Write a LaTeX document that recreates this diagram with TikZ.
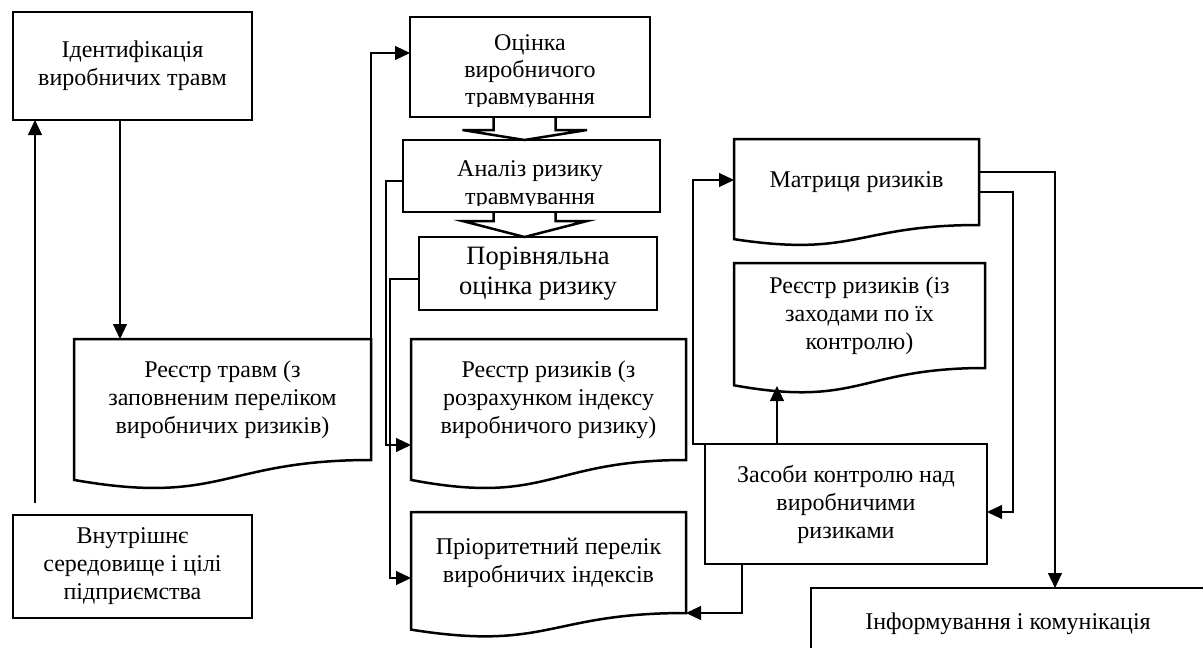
\documentclass[tikz,border=0pt]{standalone}
\usepackage{fontspec}
\setmainfont{Liberation Serif}
\usetikzlibrary{arrows.meta,calc}
\newcommand\mainfs{\fontsize{24}{28}\selectfont}
\tikzset{
  boxline/.style={line width=2.5pt, line join=miter},
  box/.style={draw, boxline, fill=white, inner sep=0pt, outer sep=0pt, align=center, font=\mainfs},
  doc/.style={inner sep=0pt, outer sep=0pt, align=center, font=\mainfs},
  conn/.style={line width=1.1pt, -{Triangle[length=15pt,width=14pt]}},
  blk/.style={boxline},
}
\newcommand\docoutline[1]{%
  \draw[boxline]
    (#1.north west) -- (#1.north east) -- (#1.south east)
    .. controls (#1.south) and ($(#1.south)!-0.381!(#1.north)$) ..
    ($(#1.south west)!-0.1646!(#1.north west)$) -- cycle;}
\begin{document}
\begin{tikzpicture}[x=1pt,y=-1pt]
\clip (0,0) rectangle (1203,648);
\fill[white] (0,0) rectangle (1203,648);
% rectangles
\node[box, minimum width=239pt, minimum height=108pt] (id) at (132.5,66) {Ідентифікація\\виробничих травм};
\node[box, minimum width=240pt, minimum height=100pt] (oc) at (530,67) {};
\node[box, minimum width=257pt, minimum height=72pt] (an) at (531.5,176) {};
\node[box, minimum width=238pt, minimum height=73pt, font=\fontsize{26.5}{30}\selectfont] (por) at (538,273.5) {Порівняльна\\оцінка ризику};
\node[box, minimum width=239pt, minimum height=103pt] (vn) at (132.5,566.5) {Внутрішнє\\середовище і цілі\\підприємства};
\node[box, minimum width=282pt, minimum height=120pt] (zk) at (846,504) {Засоби контролю над\\виробничими\\ризиками};
\node[box, minimum width=394pt, minimum height=72pt] (inf) at (1008,624) {Інформування і комунікація};
% clipped texts
\begin{scope}
  \clip (oc.north west) rectangle ([yshift=11pt]oc.south east);
  \node[doc, font=\fontsize{24}{27}\selectfont] (oct) at (530,72.5) {Оцінка\\виробничого\\травмування};
\end{scope}
\begin{scope}
  \clip (an.north west) rectangle ([yshift=7pt]an.south east);
  \node[doc, font=\fontsize{24}{28}\selectfont] (ant) at (530,185.5) {Аналіз ризику\\травмування};
\end{scope}
% document shapes
\node[doc, minimum width=297pt, minimum height=121pt] (rt) at (222.5,399.5) {Реєстр травм (з\\заповненим переліком\\виробничих ризиків)};
\docoutline{rt}
\node[doc, minimum width=275pt, minimum height=121pt] (rr1) at (548.5,399.5) {Реєстр ризиків (з\\розрахунком індексу\\виробничого ризику)};
\docoutline{rr1}
\node[doc, minimum width=275pt, minimum height=101pt] (pri) at (548.5,562.5) {Пріоритетний перелік\\виробничих індексів};
\docoutline{pri}
\node[doc, minimum width=245pt, minimum height=86pt] (mat) at (856.5,182) {Матриця ризиків};
\docoutline{mat}
\node[doc, minimum width=251pt, minimum height=105pt] (rr2) at (859.5,315.5) {Реєстр ризиків (із\\заходами по їх\\контролю)};
\docoutline{rr2}
% block arrows
\coordinate (c1) at ([xshift=-5.5pt]oc.south);
\draw[blk] ([xshift=-31pt]c1) -- ++(0,13) -- ++(-31,0) -- (c1 |- an.north) -- ([xshift=62.5pt,yshift=-13pt]c1) -- ++(-31.5,0) -- ++(0,-13);
\coordinate (c2) at ([xshift=-7pt]an.south);
\draw[blk] ([xshift=-31pt]c2) -- ++(0,9) -- ++(-31,0) -- (c2 |- por.north) -- ([xshift=62.5pt,yshift=-9pt]c2) -- ++(-31.5,0) -- ++(0,-9);
% connectors
\draw[conn] ([xshift=-12.5pt]id.south) -- ([xshift=-12.5pt]id.south |- rt.north);
\draw[conn] ([xshift=-97.5pt,yshift=12pt]vn.north) -- ([xshift=-97.5pt]id.south);
\draw[conn] (rt.north east) |- ([yshift=14pt]oc.west);
\draw[conn] ([yshift=-5pt]an.west) -- ++(-17,0) |- ([yshift=-45.5pt]rr1.west);
\draw[conn] ([yshift=-5.5pt]por.west) -- ++(-29,0) |- ([yshift=-15.5pt]pri.west);
\draw[conn] (zk.north west) -- ++(-12,0) |- ([yshift=2pt]mat.west);
\coordinate (rr2b) at (777,386);
\draw[conn] (rr2b |- zk.north) -- (rr2b);
\draw[conn] ([xshift=-104pt]zk.south) |- (pri.south east);
\draw[conn] ([yshift=10pt]mat.east) -| ([xshift=47pt]inf.north);
\draw[conn] ([yshift=-10pt]mat.east) -- ++(34,0) |- ([yshift=-8pt]zk.east);
\end{tikzpicture}
\end{document}
